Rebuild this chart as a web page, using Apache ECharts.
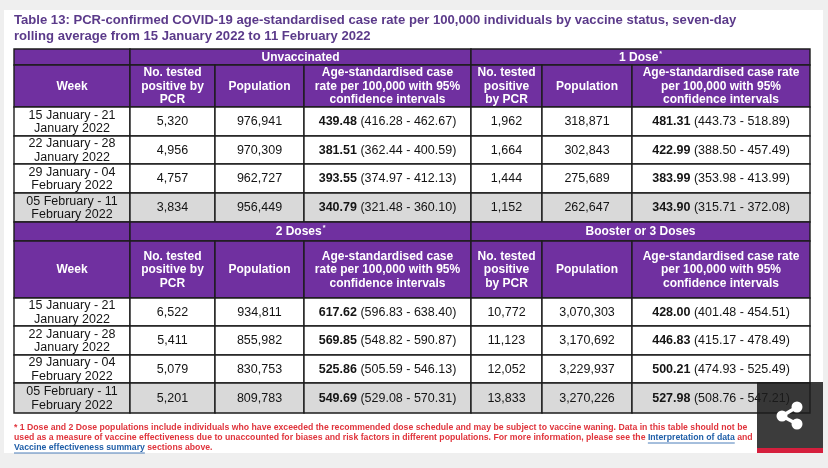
<!DOCTYPE html>
<html><head><meta charset="utf-8">
<script src="https://cdn.jsdelivr.net/npm/echarts@6/dist/echarts.min.js"></script>
<style>html,body{margin:0;padding:0;background:#efefef}#c{width:828px;height:468px}</style>
</head><body><div id="c"></div>
<script>
// ---------- DATA ----------
var weeks = ["15 January - 21\nJanuary 2022","22 January - 28\nJanuary 2022","29 January - 04\nFebruary 2022","05 February - 11\nFebruary 2022"];
var statuses = ["Unvaccinated","1 Dose","2 Doses","Booster or 3 Doses"];
var statusNote = [false,true,true,false];
var positives = {
  unvax:[5320,4956,4757,3834], dose1:[1962,1664,1444,1152],
  dose2:[6522,5411,5079,5201], booster:[10772,11123,12052,13833]
};
var population = {
  unvax:[976941,970309,962727,956449], dose1:[318871,302843,275689,262647],
  dose2:[934811,855982,830753,809783], booster:[3070303,3170692,3229937,3270226]
};
var rate = {
  unvax:[439.48,381.51,393.55,340.79], dose1:[481.31,422.99,383.99,343.90],
  dose2:[617.62,569.85,525.86,549.69], booster:[428.00,446.83,500.21,527.98]
};
var rateLow = {
  unvax:[416.28,362.44,374.97,321.48], dose1:[443.73,388.50,353.98,315.71],
  dose2:[596.83,548.82,505.59,529.08], booster:[401.48,415.17,474.93,508.76]
};
var rateHigh = {
  unvax:[462.67,400.59,412.13,360.10], dose1:[518.89,457.49,413.99,372.08],
  dose2:[638.40,590.87,546.13,570.31], booster:[454.51,478.49,525.49,547.21]
};
var statusKeys = ["unvax","dose1","dose2","booster"];
var weekHeader = "Week";
var subHeadersLeft = ["No. tested\npositive by\nPCR","Population","Age-standardised case\nrate per 100,000 with 95%\nconfidence intervals"];
var subHeadersRight = ["No. tested\npositive\nby PCR","Population","Age-standardised case rate\nper 100,000 with 95%\nconfidence intervals"];
var titleLines = ["Table 13: PCR-confirmed COVID-19 age-standardised case rate per 100,000 individuals by vaccine status, seven-day","rolling average from 15 January 2022 to 11 February 2022"];
var noteLine1 = "* 1 Dose and 2 Dose populations include individuals who have exceeded the recommended dose schedule and may be subject to vaccine waning. Data in this table should not be";
var noteLine2a = "used as a measure of vaccine effectiveness due to unaccounted for biases and risk factors in different populations. For more information, please see the ";
var noteLink1 = "Interpretation of data";
var noteLine2b = " and";
var noteLink2 = "Vaccine effectiveness summary";
var noteLine3b = " sections above.";

// ---------- LAYOUT ----------
var F = "'Liberation Sans', Arial, sans-serif";
var colX = [14,130,215,304,471,542,632,810];
var sections = [
  {rows:[49,65,107,136,164,193,222], pair:[0,1]},
  {rows:[222,241,298,326,355,383,413], pair:[2,3]}
];
var PURPLE = "#7030a0", GREY = "#d9d9d9", BORDER = "#1c1c1c";
var FS = 12.5, HFS = 12;

function fmt(n){ return n.toLocaleString('en-GB'); }
function f2(n){ return n.toFixed(2); }

var cells = [];
sections.forEach(function(sec){
  var r = sec.rows;
  cells.push({x0:colX[0],x1:colX[1],y0:r[0],y1:r[1],fill:PURPLE,text:""});
  sec.pair.forEach(function(si,k){
    cells.push({x0:colX[1+3*k],x1:colX[4+3*k],y0:r[0],y1:r[1],fill:PURPLE,rich:"{h|"+statuses[si]+"}"+(statusNote[si]?"{s|*}":""),head:true});
  });
  cells.push({x0:colX[0],x1:colX[1],y0:r[1],y1:r[2],fill:PURPLE,text:weekHeader,head:true});
  [subHeadersLeft,subHeadersRight].forEach(function(hs,k){
    hs.forEach(function(h,j){
      cells.push({x0:colX[1+3*k+j],x1:colX[2+3*k+j],y0:r[1],y1:r[2],fill:PURPLE,text:h,head:true});
    });
  });
  for (var w=0; w<weeks.length; w++){
    var fill = (w===weeks.length-1) ? GREY : "#ffffff";
    var y0 = r[2+w], y1 = r[3+w];
    cells.push({x0:colX[0],x1:colX[1],y0:y0,y1:y1,fill:fill,text:weeks[w]});
    sec.pair.forEach(function(si,k){
      var key = statusKeys[si];
      cells.push({x0:colX[1+3*k],x1:colX[2+3*k],y0:y0,y1:y1,fill:fill,text:fmt(positives[key][w])});
      cells.push({x0:colX[2+3*k],x1:colX[3+3*k],y0:y0,y1:y1,fill:fill,text:fmt(population[key][w])});
      cells.push({x0:colX[3+3*k],x1:colX[4+3*k],y0:y0,y1:y1,fill:fill,
        rich:"{b|"+f2(rate[key][w])+"}{n| ("+f2(rateLow[key][w])+" - "+f2(rateHigh[key][w])+")}"});
    });
  }
});

function renderItem(params, api){
  var c = cells[params.dataIndex];
  var p0 = api.coord([c.x0,c.y0]), p1 = api.coord([c.x1,c.y1]);
  var tc = c.head ? "#ffffff" : "#141414";
  var fs = c.head ? HFS : FS;
  var st = {
    x:(p0[0]+p1[0])/2, y:(p0[1]+p1[1])/2+0.5, align:'center', verticalAlign:'middle',
    fill:tc, fontFamily:F, fontSize:fs, fontWeight:c.head?'bold':'normal', lineHeight:13.5
  };
  if (c.rich){
    st.text = c.rich;
    st.rich = {
      b:{fontFamily:F,fontSize:FS,fontWeight:'bold',fill:tc},
      n:{fontFamily:F,fontSize:FS,fontWeight:'normal',fill:tc},
      h:{fontFamily:F,fontSize:HFS,fontWeight:'bold',fill:tc},
      s:{fontFamily:F,fontSize:7,fontWeight:'bold',fill:tc,padding:[0,0,7,1]}
    };
  } else st.text = c.text;
  return {type:'group',children:[
    {type:'rect',shape:{x:p0[0],y:p0[1],width:p1[0]-p0[0],height:p1[1]-p0[1]},
     style:{fill:c.fill,stroke:BORDER,lineWidth:1.4}},
    {type:'text',style:st,z2:10}
  ]};
}

var ctx = document.createElement('canvas').getContext('2d');
var NF = "bold 8.7px " + F;
ctx.font = NF;
function tw(s){ return ctx.measureText(s).width; }
var RED = "#e0343c", BLUE = "#1f5ea8";
var nx = 14;
var l2aW = tw(noteLine2a), l1W = tw(noteLink1), l2W = tw(noteLink2);
var TF = "bold 13.1px " + F;

var graphics = [
  {type:'rect',shape:{x:4,y:10,width:819,height:443},style:{fill:'#ffffff'},z:-10},
  {type:'text',style:{text:titleLines[0],x:14,y:20,verticalAlign:'middle',fill:'#5b3a8a',font:TF}},
  {type:'text',style:{text:titleLines[1],x:14,y:36,verticalAlign:'middle',fill:'#5b3a8a',font:TF}},
  {type:'text',style:{text:noteLine1,x:nx,y:428,verticalAlign:'middle',fill:RED,font:NF}},
  {type:'text',style:{text:noteLine2a,x:nx,y:438,verticalAlign:'middle',fill:RED,font:NF}},
  {type:'text',style:{text:noteLink1,x:nx+l2aW,y:438,verticalAlign:'middle',fill:BLUE,font:NF}},
  {type:'line',shape:{x1:nx+l2aW,y1:443,x2:nx+l2aW+l1W,y2:443},style:{stroke:BLUE,lineWidth:0.8}},
  {type:'text',style:{text:noteLine2b,x:nx+l2aW+l1W,y:438,verticalAlign:'middle',fill:RED,font:NF}},
  {type:'text',style:{text:noteLink2,x:nx,y:448,verticalAlign:'middle',fill:BLUE,font:NF}},
  {type:'line',shape:{x1:nx,y1:453,x2:nx+l2W,y2:453},style:{stroke:BLUE,lineWidth:0.8}},
  {type:'text',style:{text:noteLine3b,x:nx+l2W,y:448,verticalAlign:'middle',fill:RED,font:NF}},
  {type:'rect',shape:{x:757,y:382,width:66,height:71},style:{fill:'rgba(28,28,28,0.86)'},z:100},
  {type:'rect',shape:{x:757,y:448,width:66,height:5},style:{fill:'#d51f3d'},z:101},
  {type:'line',shape:{x1:797,y1:407,x2:782,y2:416},style:{stroke:'#fff',lineWidth:3.5},z:101},
  {type:'line',shape:{x1:782,y1:416,x2:797,y2:424},style:{stroke:'#fff',lineWidth:3.5},z:101},
  {type:'circle',shape:{cx:797,cy:407,r:5.5},style:{fill:'#fff'},z:101},
  {type:'circle',shape:{cx:782,cy:416,r:5.5},style:{fill:'#fff'},z:101},
  {type:'circle',shape:{cx:797,cy:424,r:5.5},style:{fill:'#fff'},z:101}
];

var chart = echarts.init(document.getElementById('c'), null, {renderer:'canvas'});
chart.setOption({
  backgroundColor:'#efefef',
  animation:false,
  grid:{left:0,right:0,top:0,bottom:0},
  xAxis:{type:'value',min:0,max:828,show:false},
  yAxis:{type:'value',min:0,max:468,inverse:true,show:false},
  series:[{type:'custom',renderItem:renderItem,data:cells.map(function(c,i){return [i];}),clip:false,silent:true}],
  graphic:graphics
});
</script></body></html>
